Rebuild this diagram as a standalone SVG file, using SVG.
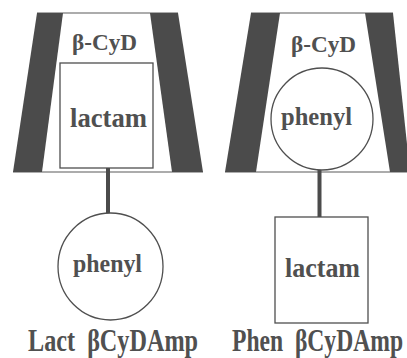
<svg xmlns="http://www.w3.org/2000/svg" width="407" height="358" viewBox="0 0 407 358">
  <style>
    .band { fill: #4b4b4b; }
    .rim { stroke: #5a5a5a; stroke-width: 1.2; fill: none; }
    .unit { fill: #ffffff; stroke: #4f4f4f; stroke-width: 1.3; }
    .link { stroke: #4b4b4b; stroke-width: 4; fill: none; }
    text { font-family: "Liberation Serif", "Times New Roman", serif; font-weight: bold; fill: #505050; }
    .cap { font-size: 23.5px; }
  </style>
  <rect width="407" height="358" fill="#ffffff"/>

  <!-- lactam-anchored conjugate -->
  <g id="cyd-left">
    <line class="rim" x1="37" y1="13" x2="178" y2="13"/>
    <line class="rim" x1="13" y1="172" x2="203" y2="172"/>
    <polygon class="band" points="37,13 63,13 42,172 13,172"/>
    <polygon class="band" points="150,13 178,13 203,172 172,172"/>
    <text x="72" y="50" font-size="24" textLength="65" lengthAdjust="spacingAndGlyphs">β-CyD</text>
  </g>
  <g id="lactam-left">
    <rect class="unit" x="60" y="63" width="93" height="105"/>
    <text x="70" y="127" font-size="27" textLength="77" lengthAdjust="spacingAndGlyphs">lactam</text>
  </g>
  <g id="phenyl-left">
    <ellipse class="unit" cx="110.5" cy="266.5" rx="52.5" ry="53.5"/>
    <text x="73" y="272" font-size="25" textLength="69" lengthAdjust="spacingAndGlyphs">phenyl</text>
  </g>

  <!-- phenyl-anchored conjugate -->
  <g id="cyd-right">
    <line class="rim" x1="251" y1="13" x2="393" y2="13"/>
    <line class="rim" x1="225" y1="172" x2="407" y2="172"/>
    <polygon class="band" points="251,13 280,13 256,172 225,172"/>
    <polygon class="band" points="365,13 393,13 410,172 390,172"/>
    <text x="291" y="52" font-size="24" textLength="65" lengthAdjust="spacingAndGlyphs">β-CyD</text>
  </g>
  <g id="phenyl-right">
    <ellipse class="unit" cx="322" cy="119" rx="51" ry="51"/>
    <text x="281" y="125" font-size="25" textLength="71" lengthAdjust="spacingAndGlyphs">phenyl</text>
  </g>
  <g id="lactam-right">
    <rect class="unit" x="275" y="217" width="93" height="106"/>
    <text x="285" y="277" font-size="27" textLength="75" lengthAdjust="spacingAndGlyphs">lactam</text>
  </g>

  <!-- tethers between the two units -->
  <g id="connectors">
    <line class="link" x1="108" y1="168" x2="108" y2="213"/>
    <line class="link" x1="319.5" y1="170" x2="319.5" y2="217"/>
  </g>

  <!-- captions: tall, narrow lettering -->
  <g id="captions">
    <text class="cap" transform="translate(28,351) scale(1,1.38)" x="0" y="0" textLength="170" lengthAdjust="spacingAndGlyphs" xml:space="preserve">Lact  βCyDAmp</text>
    <text class="cap" transform="translate(232,351) scale(1,1.38)" x="0" y="0" textLength="171" lengthAdjust="spacingAndGlyphs" xml:space="preserve">Phen  βCyDAmp</text>
  </g>
</svg>
